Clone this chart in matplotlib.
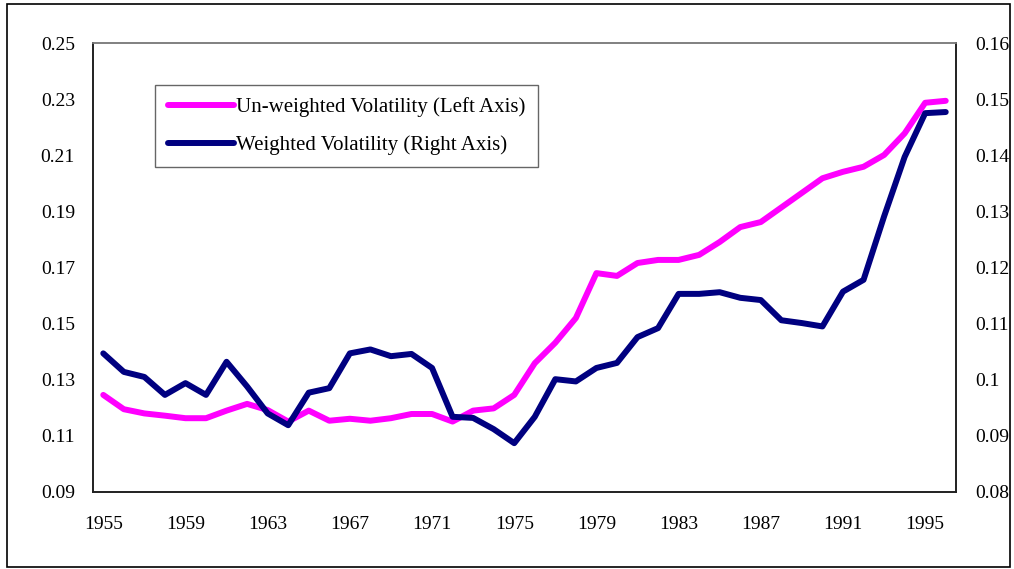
import matplotlib
matplotlib.use("Agg")
import matplotlib.pyplot as plt
from matplotlib.patches import Rectangle
from matplotlib.ticker import FixedLocator, FuncFormatter

plt.rcParams['font.family'] = ['Liberation Serif', 'DejaVu Serif']

years = list(range(1955, 1997))

unweighted = [0.1246, 0.1195, 0.1180, 0.1172, 0.1163, 0.1163, 0.1190, 0.1214, 0.1192, 0.1151,
              0.1190, 0.1154, 0.1161, 0.1154, 0.1163, 0.1178, 0.1178, 0.1151, 0.1190, 0.1198,
              0.1246, 0.1359, 0.1432, 0.1520, 0.1680, 0.1670, 0.1716, 0.1727, 0.1727, 0.1745,
              0.1791, 0.1844, 0.1862, 0.1914, 0.1966, 0.2018, 0.2041, 0.2059, 0.2101, 0.2178,
              0.2287, 0.2294]

weighted = [0.1047, 0.1014, 0.1005, 0.0973, 0.0994, 0.0973, 0.1032, 0.0988, 0.0940, 0.0919,
            0.0977, 0.0985, 0.1047, 0.1054, 0.1042, 0.1046, 0.1021, 0.0934, 0.0932, 0.0912,
            0.0887, 0.0934, 0.1001, 0.0997, 0.1021, 0.1030, 0.1076, 0.1092, 0.1153, 0.1153,
            0.1156, 0.1146, 0.1142, 0.1106, 0.1101, 0.1095, 0.1157, 0.1178, 0.1291, 0.1397,
            0.1475, 0.1477]

left_ticks = [0.09, 0.11, 0.13, 0.15, 0.17, 0.19, 0.21, 0.23, 0.25]
right_ticks = [0.08, 0.09, 0.10, 0.11, 0.12, 0.13, 0.14, 0.15, 0.16]
x_ticks = list(range(1955, 1997, 4))

label_unw = "Un-weighted Volatility (Left Axis)"
label_w = "Weighted Volatility (Right Axis)"

W, H = 1014, 569
fig = plt.figure(figsize=(W / 100, H / 100), dpi=100)
ax = fig.add_axes([93 / W, 1 - 492 / H, (956 - 93) / W, (492 - 43) / H])
ax2 = ax.twinx()

l1, = ax.plot(years, unweighted, color='#FF00FF', lw=4.3, solid_capstyle='round',
              solid_joinstyle='round', zorder=3)
l2, = ax2.plot(years, weighted, color='#000080', lw=4.3, solid_capstyle='round',
               solid_joinstyle='round', zorder=3)

ax.set_xlim(1954.5, 1996.5)
ax.set_ylim(0.09, 0.25)
ax2.set_ylim(0.08, 0.16)

ax.xaxis.set_major_locator(FixedLocator(x_ticks))
ax.yaxis.set_major_locator(FixedLocator(left_ticks))
ax2.yaxis.set_major_locator(FixedLocator(right_ticks))
ax.yaxis.set_major_formatter(FuncFormatter(lambda v, p: f"{v:.2f}"))
ax2.yaxis.set_major_formatter(FuncFormatter(lambda v, p: f"{round(v, 2):g}"))

ax.tick_params(axis='both', length=0, labelsize=14)
ax.tick_params(axis='y', pad=13)
ax.tick_params(axis='x', pad=17)
ax2.tick_params(axis='y', length=0, labelsize=14, pad=13.5)

for a in (ax, ax2):
    for s in a.spines.values():
        s.set_linewidth(1.2)
        s.set_color('#202020')
ax.spines['top'].set_color('#808080')
ax2.spines['top'].set_color('#808080')

leg = ax2.legend([l1, l2], [label_unw, label_w], loc='upper left',
                 bbox_to_anchor=(0.072, 0.9065), fontsize=15, frameon=True,
                 fancybox=False, handlelength=3.2, handletextpad=0.1,
                 borderpad=0.6, labelspacing=0.85, borderaxespad=0)
leg.get_frame().set_edgecolor('#404040')
leg.get_frame().set_linewidth(1.0)

fig.patches.append(Rectangle((7 / W, 1 - 567 / H), (1010 - 7) / W, (567 - 4) / H,
                             transform=fig.transFigure, fill=False,
                             edgecolor='black', linewidth=1.2))

fig.savefig("out.png", dpi=100)
